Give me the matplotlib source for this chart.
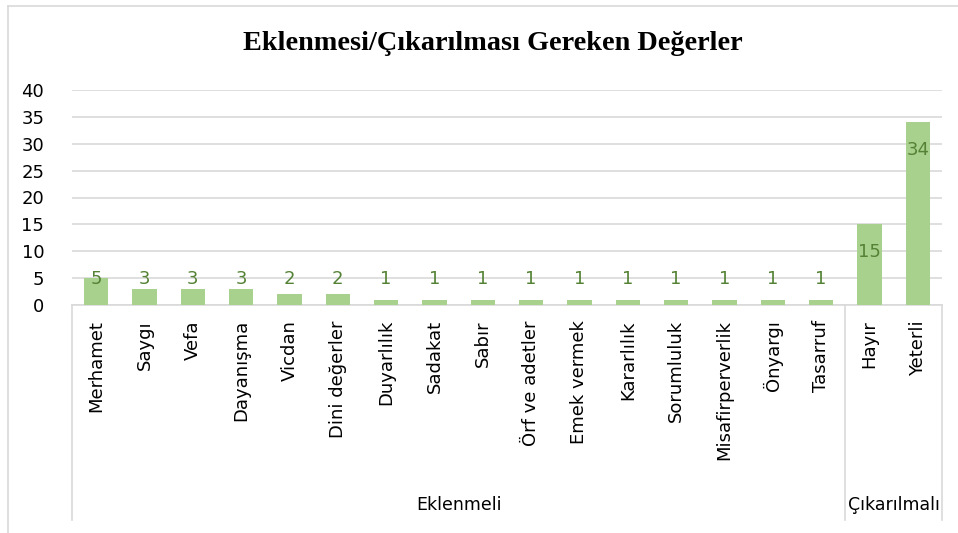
import matplotlib.pyplot as plt
from matplotlib.lines import Line2D

# data
degerler = ["Merhamet", "Saygı", "Vefa", "Dayanışma", "Vicdan", "Dini değerler",
            "Duyarlılık", "Sadakat", "Sabır", "Örf ve adetler", "Emek vermek",
            "Kararlılık", "Sorumluluk", "Misafirperverlik", "Önyargı", "Tasarruf",
            "Hayır", "Yeterli"]
sayilar = [5, 3, 3, 3, 2, 2, 1, 1, 1, 1, 1, 1, 1, 1, 1, 1, 15, 34]
gruplar = ["Eklenmeli", "Çıkarılmalı"]
grup_boyu = [16, 2]
baslik = "Eklenmesi/Çıkarılması Gereken Değerler"

W, H = 958, 533
fig = plt.figure(figsize=(W / 100, H / 100), dpi=100)
left, right, top, bottom = 72, 942, 90, 305
ax = fig.add_axes([left / W, 1 - bottom / H, (right - left) / W, (bottom - top) / H])

x = list(range(len(degerler)))
ax.bar(x, sayilar, width=0.5, color="#A9D18E", zorder=3)
for xi, v in zip(x, sayilar):
    ax.text(xi, max(v - 5.2, 4.8), str(v), ha="center", va="center",
            fontsize=13, color="#548235", zorder=4)

ax.set_xlim(-0.5, len(degerler) - 0.5)
ax.set_ylim(0, 40)
ax.set_yticks(range(0, 41, 5))
ax.tick_params(axis="y", length=0, labelsize=13, pad=20)
ax.grid(axis="y", color="#D9D9D9", linewidth=1.2, zorder=0)
for s in ["top", "right", "left"]:
    ax.spines[s].set_visible(False)
ax.spines["bottom"].set_color("#D9D9D9")
ax.spines["bottom"].set_linewidth(1.2)
ax.set_xticks(x)
ax.set_xticklabels([])
ax.tick_params(axis="x", length=0)

# category labels
tr = ax.get_xaxis_transform()
lab_y = -(320 - bottom) / (bottom - top)
for xi, name in zip(x, degerler):
    ax.text(xi, lab_y, name, rotation=90, ha="center", va="top",
            fontsize=13, transform=tr, clip_on=False)

# group labels and separators
line_end = -(520 - bottom) / (bottom - top)
grp_y = -(505 - bottom) / (bottom - top)
start = -0.5
ax.plot([start, start], [0, line_end], transform=tr, color="#D9D9D9",
        linewidth=1.2, clip_on=False)
for g, n in zip(gruplar, grup_boyu):
    end = start + n
    ax.plot([end, end], [0, line_end], transform=tr, color="#D9D9D9",
            linewidth=1.2, clip_on=False)
    ax.text((start + end) / 2, grp_y, g, ha="center", va="center",
            fontsize=12.5, transform=tr, clip_on=False)
    start = end

fig.text(493 / W, 1 - 44 / H, baslik, ha="center", va="center",
         fontsize=20.3, fontweight="bold", family="Liberation Serif")

# chart border
fig.add_artist(Line2D([8 / W, 8 / W], [0, 1 - 6 / H], color="#D9D9D9", linewidth=1.2))
fig.add_artist(Line2D([8 / W, 1], [1 - 6 / H, 1 - 6 / H], color="#D9D9D9", linewidth=1.2))

fig.savefig("out.png", dpi=100)
